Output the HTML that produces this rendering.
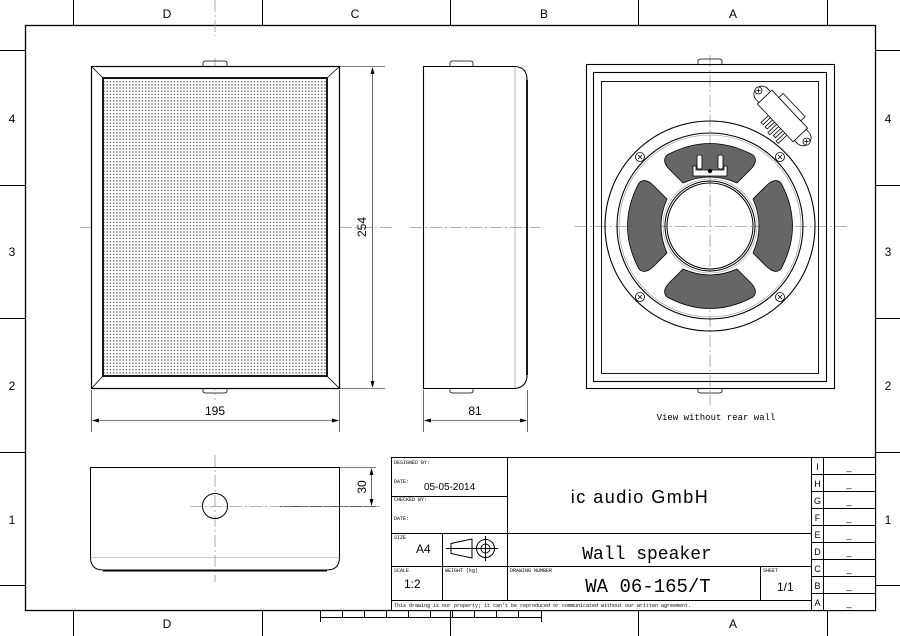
<!DOCTYPE html>
<html><head><meta charset="utf-8"><style>
html,body{margin:0;padding:0;background:#fff}
svg{display:block}
text{font-family:"Liberation Sans",sans-serif;fill:#000}
.m{font-family:"Liberation Mono",monospace}
</style></head><body>
<svg width="900" height="636" viewBox="0 0 900 636" xmlns="http://www.w3.org/2000/svg">
<defs>
<pattern id="dots" width="3.2" height="3.2" patternUnits="userSpaceOnUse">
<rect x="1" y="1" width="1.3" height="1.3" fill="#555"/>
</pattern>
</defs>
<g stroke="#000" fill="none" stroke-width="1">
<rect x="25.5" y="25.5" width="850" height="585" stroke-width="1.3"/>
<path d="M73.5 0V25M262.5 0V25M450.5 0V25M638.5 0V25M827.5 0V25"/>
<path d="M73.5 611V636M262.5 611V636M450.5 611V636M638.5 611V636M827.5 611V636"/>
<path d="M0 50.5H25M0 185.5H25M0 318.5H25M0 452.5H25M0 585.5H25"/>
<path d="M876 50.5H900M876 185.5H900M876 318.5H900M876 452.5H900M876 585.5H900"/>
<path d="M320.5 617.5H542M320.5 611V622M342.5 611V617M364.5 611V617M386.5 611V617M408.5 611V617M430.5 611V617M452.5 611V617M474.5 611V617M496.5 611V617M518.5 611V617M541.5 611V622"/>
</g>
<g font-size="12" text-anchor="middle">
<text x="167" y="18">D</text><text x="355" y="18">C</text><text x="544" y="18">B</text><text x="733" y="18">A</text>
<text x="167" y="628">D</text><text x="733" y="628">A</text>
<text x="12" y="123">4</text><text x="12" y="256">3</text><text x="12" y="390">2</text><text x="12" y="524">1</text>
<text x="888" y="123">4</text><text x="888" y="256">3</text><text x="888" y="390">2</text><text x="888" y="524">1</text>
</g>

<g stroke="#999" stroke-width="0.8" stroke-dasharray="12,3,2,3" fill="none">
<path d="M215 0V36M215 58V400M80 227.5H395"/>
<path d="M410 227.5H540"/>
<path d="M710 55V405M575 226.5H850"/>
<path d="M215 455V582M190 506.5H380"/>
</g>

<g stroke="#000" fill="none">
<path d="M203 66V63Q203 61 206 61H224Q227 61 227 63V66M203 388V391Q203 393 206 393H224Q227 393 227 391V388" stroke-width="0.8"/>
<rect x="91.5" y="66.5" width="248" height="322" stroke-width="1.2" fill="#fff"/>
<rect x="103" y="78" width="224" height="298" fill="url(#dots)" stroke-width="1.8"/>
<path d="M91.5 66.5L103 78M339.5 66.5L327 78M91.5 388.5L103 376M339.5 388.5L327 376" stroke-width="0.8"/>
</g>
<g stroke="#000" fill="none">
<path d="M450 66V63Q450 61 453 61H470Q473 61 473 63V66M450 388V391Q450 393 453 393H470Q473 393 473 391V388" stroke-width="0.8"/>
<path d="M423.5 66.5H515Q527 67 527 80V375Q527 387 515 388.5H423.5Z" stroke-width="1.1"/>
<path d="M515 67V388" stroke="#999" stroke-width="0.7"/>
<path d="M527 80V375" stroke-width="1.8"/>
</g>
<g stroke="#000" stroke-width="0.6" fill="none">
<path d="M340 66.5H385M340 388.5H385M372.5 68V386"/>
<path d="M91.5 390V432M339.5 390V432M93 420.5H338"/>
<path d="M423.5 390V432M527.5 390V432M425 420.5H526"/>
<path d="M340 467.5H376M280 506.5H376M371.5 469V505"/>
</g>
<g fill="#000">
<path d="M372.5 67l-2 7h4zM372.5 388l-2 -7h4z"/>
<path d="M92 420.5l7 -2v4zM339 420.5l-7 -2v4z"/>
<path d="M424 420.5l7 -2v4zM527 420.5l-7 -2v4z"/>
<path d="M371.5 468l-2 7h4zM371.5 506l-2 -7h4z"/>
</g>
<g font-size="12" text-anchor="middle">
<text x="215" y="415">195</text>
<text x="475" y="415">81</text>
<text transform="translate(366 227) rotate(-90)">254</text>
<text transform="translate(366 487) rotate(-90)">30</text>
</g>
<g stroke="#000" fill="none">
<path d="M90.5 467.5H339.5V557Q339.5 570 327 570H103Q90.5 570 90.5 557Z" stroke-width="1"/>
<path d="M103 571H327" stroke-width="1"/>
<path d="M90.5 557.5H339.5" stroke="#999" stroke-width="0.6"/>
<circle cx="215" cy="506" r="12.5" stroke-width="1"/>
</g>

<g stroke="#000" fill="none">
<path d="M698 64V61Q698 59 701 59H719Q722 59 722 61V64M698 388V391Q698 393 701 393H719Q722 393 722 391V388" stroke-width="0.8"/>
<rect x="586.5" y="64.5" width="248" height="324" stroke-width="1.1"/>
<rect x="593.5" y="72.5" width="233" height="309" stroke-width="1.1"/>
<rect x="601.5" y="81.5" width="217" height="292" stroke-width="0.9"/>
<circle cx="710" cy="226" r="105" stroke-width="1.1"/>
<circle cx="710" cy="226" r="93" stroke-width="1.1"/>
<circle cx="710" cy="226" r="91" stroke="#888" stroke-width="0.6"/>
<circle cx="710" cy="226" r="47" stroke="#999" stroke-width="0.6"/>
<circle cx="710" cy="226" r="45" stroke-width="1"/>
<circle cx="710" cy="226" r="43" stroke-width="1"/>
</g>
<g fill="#666" stroke="#000" stroke-width="0.8" stroke-linejoin="round">
<path id="lobe" d="M667 155Q710 132 753 155Q759 161 750 170L737 183Q710 171 683 183L670 170Q661 161 667 155Z"/>
<path d="M667 155Q710 132 753 155Q759 161 750 170L737 183Q710 171 683 183L670 170Q661 161 667 155Z" transform="rotate(180 710 226)"/>
<path d="M667 155Q710 132 753 155Q759 161 750 170L737 183Q710 171 683 183L670 170Q661 161 667 155Z" transform="rotate(90 710 226)"/>
<path d="M667 155Q710 132 753 155Q759 161 750 170L737 183Q710 171 683 183L670 170Q661 161 667 155Z" transform="rotate(-90 710 226)"/>
</g>
<g stroke="#000" stroke-width="0.8" fill="#fff">
<path d="M693 166V176H727V166H724V170H696V166Z"/>
<rect x="697" y="155" width="5" height="14" rx="2"/>
<rect x="718" y="155" width="5" height="14" rx="2"/>
<circle cx="710" cy="171" r="1.8" fill="#000"/>
</g>
<g stroke="#000" stroke-width="0.8" fill="#fff">
<g transform="translate(640 157)"><circle r="4.5"/><path d="M-2 -2L2 2M2 -2L-2 2"/></g>
<g transform="translate(780 157)"><circle r="4.5"/><path d="M-2 -2L2 2M2 -2L-2 2"/></g>
<g transform="translate(640 297)"><circle r="4.5"/><path d="M-2 -2L2 2M2 -2L-2 2"/></g>
<g transform="translate(780 297)"><circle r="4.5"/><path d="M-2 -2L2 2M2 -2L-2 2"/></g>
</g>
<g transform="translate(782.5 116) rotate(46.7)" stroke="#000" stroke-width="0.8" fill="#fff">
<rect x="-4" y="8" width="3" height="12"/><rect x="2" y="8" width="3" height="14"/><rect x="8" y="8" width="3" height="12"/><rect x="14" y="8" width="3" height="14"/><rect x="-10" y="8" width="3" height="12"/>
<rect x="-38" y="-8" width="76" height="16" rx="8"/>
<rect x="-26" y="-10" width="52" height="20"/>
<rect x="-16" y="-16" width="32" height="6"/>
<g transform="translate(-35 0)"><circle r="3.5"/><path d="M-1.5 -1.5L1.5 1.5M1.5 -1.5L-1.5 1.5"/></g>
<g transform="translate(35 0)"><circle r="3.5"/><path d="M-1.5 -1.5L1.5 1.5M1.5 -1.5L-1.5 1.5"/></g>
</g>
<text x="716" y="420" class="m" font-size="9" text-anchor="middle">View without rear wall</text>

<g stroke="#000" fill="none" stroke-width="1">
<rect x="391.5" y="457.5" width="484" height="153" fill="#fff"/>
<path d="M507.5 457.5V601M391.5 496.5H507M391.5 533.5H811M391.5 566.5H811M391.5 600.5H811M442.5 533.5V600M760.5 566.5V600M811.5 457.5V610.5M823.5 457.5V610.5"/>
<path d="M811 474.5H875M811 491.5H875M811 508.5H875M811 525.5H875M811 542.5H875M811 559.5H875M811 576.5H875M811 593.5H875"/>
<path d="M451 543.5L472 539V558L451 553.5ZM446 548.5H498M485.5 536V561"/>
<circle cx="485.5" cy="548.5" r="9"/><circle cx="485.5" cy="548.5" r="4.5"/>
</g>
<g font-size="5" class="m">
<text x="394" y="464" class="m">DESIGNED BY:</text>
<text x="394" y="483" class="m">DATE:</text>
<text x="394" y="501" class="m">CHECKED BY:</text>
<text x="394" y="520" class="m">DATE:</text>
<text x="394" y="539" class="m">SIZE</text>
<text x="394" y="572" class="m">SCALE</text>
<text x="445" y="572" class="m">WEIGHT (kg)</text>
<text x="510" y="572" class="m">DRAWING NUMBER</text>
<text x="763" y="572" class="m">SHEET</text>
<text x="394" y="607" class="m">This drawing is our property; it can't be reproduced or communicated without our written agreement.</text>
</g>
<text x="424" y="490" font-size="10">05-05-2014</text>
<text x="416" y="553" font-size="12">A4</text>
<text x="404" y="588" font-size="12">1:2</text>
<text x="777" y="591" font-size="12">1/1</text>
<text x="640" y="503" font-size="18" text-anchor="middle" letter-spacing="1.5">ic audio GmbH</text>
<text x="647" y="559" class="m" font-size="18" text-anchor="middle">Wall speaker</text>
<text x="648" y="592" class="m" font-size="19" text-anchor="middle">WA 06-165/T</text>
<g font-size="9" class="m" text-anchor="middle">
<text x="817.5" y="470">I</text><text x="817.5" y="487">H</text><text x="817.5" y="504">G</text><text x="817.5" y="521">F</text><text x="817.5" y="538">E</text><text x="817.5" y="555">D</text><text x="817.5" y="572">C</text><text x="817.5" y="589">B</text><text x="817.5" y="606">A</text>
<text x="849" y="470">_</text><text x="849" y="487">_</text><text x="849" y="504">_</text><text x="849" y="521">_</text><text x="849" y="538">_</text><text x="849" y="555">_</text><text x="849" y="572">_</text><text x="849" y="589">_</text><text x="849" y="606">_</text>
</g>
</svg>
</body></html>
